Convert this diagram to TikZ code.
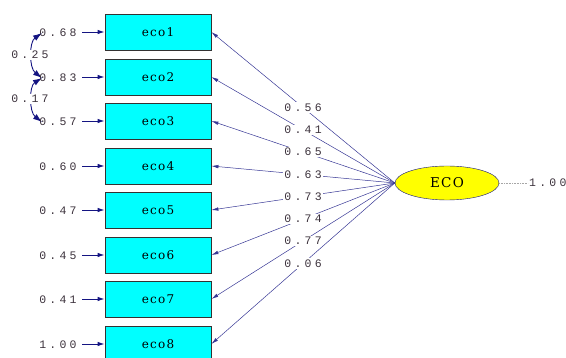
\documentclass[tikz,border=0pt]{standalone}
\usepackage{fontspec}
\setmainfont{Liberation Serif}
\newfontfamily\numfont[LetterSpace=28]{Liberation Mono}
\newfontfamily\boxfont[LetterSpace=10]{DejaVu Serif}
\usetikzlibrary{arrows.meta,shapes.geometric}
\definecolor{pathblue}{RGB}{20,20,130}
\definecolor{numgray}{RGB}{60,50,60}
\definecolor{boxcyan}{RGB}{0,255,255}
\definecolor{latyellow}{RGB}{255,255,0}
\tikzset{
  obsbox/.style={draw=black!80,fill=boxcyan,minimum width=106pt,minimum height=36pt,
    inner sep=0pt,line width=0.8pt,font=\boxfont\fontsize{12}{14}\selectfont},
  latent/.style={ellipse,draw=pathblue,fill=latyellow,minimum width=104pt,minimum height=34pt,
    inner sep=0pt,font=\boxfont\fontsize{13.5}{15}\selectfont},
  numlab/.style={font=\numfont\fontsize{11.5}{13}\selectfont,text=numgray,inner sep=1pt},
  midlab/.style={numlab,fill=white,inner sep=1.5pt},
  loading/.style={pathblue!85,line width=0.5pt,-{Latex[length=7pt,width=3.5pt]}},
  errarrow/.style={pathblue,line width=0.9pt,-{Latex[length=7pt,width=4.5pt]}},
  corr/.style={pathblue,line width=0.9pt,{Latex[length=9pt,width=6pt]}-{Latex[length=9pt,width=6pt]}}
}
\begin{document}
\begin{tikzpicture}[x=1pt,y=1pt]
\useasboundingbox (0,0) rectangle (566,-358);
% observed indicators and their error variances
\foreach \i/\y/\e in {1/32/0.68,2/77/0.83,3/121/0.57,4/166/0.60,5/210/0.47,6/255/0.45,7/299/0.41,8/344/1.00}{
  \node[obsbox] (eco\i) at (158,-\y) {eco\i};
  \coordinate (tip\i) at (42,-\y-1);
  \draw[errarrow] (82,-\y) -- (eco\i.west);
}
% error covariances
\draw[corr] (tip1) .. controls (29,-42) and (29,-68) .. (tip2);
\draw[corr] (tip2) .. controls (29,-86) and (29,-112) .. (tip3);
\node[midlab] (c12) at (30,-55) {0.25};
\node[midlab] (c23) at (30,-99) {0.17};
\foreach \i/\y/\e in {1/32/0.68,2/77/0.83,3/121/0.57,4/166/0.60,5/210/0.47,6/255/0.45,7/299/0.41,8/344/1.00}{
  \node[numlab] (err\i) at (58,-\y-1) {\e};
}
% latent factor
\node[latent] (ECO) at (447,-183) {ECO};
\coordinate (var) at (528,-183);
\draw[gray!70,densely dotted,line width=0.6pt] (ECO.east) -- (var);
\node[numlab,anchor=west] (varlab) at (var) {1.00};
% factor loadings
\foreach \i/\l in {1/0.56,2/0.41,3/0.65,4/0.63,5/0.73,6/0.74,7/0.77,8/0.06}{
  \draw[loading] (ECO.west) -- node[midlab,pos=0.5] {\l} (eco\i.east);
}
\end{tikzpicture}
\end{document}
